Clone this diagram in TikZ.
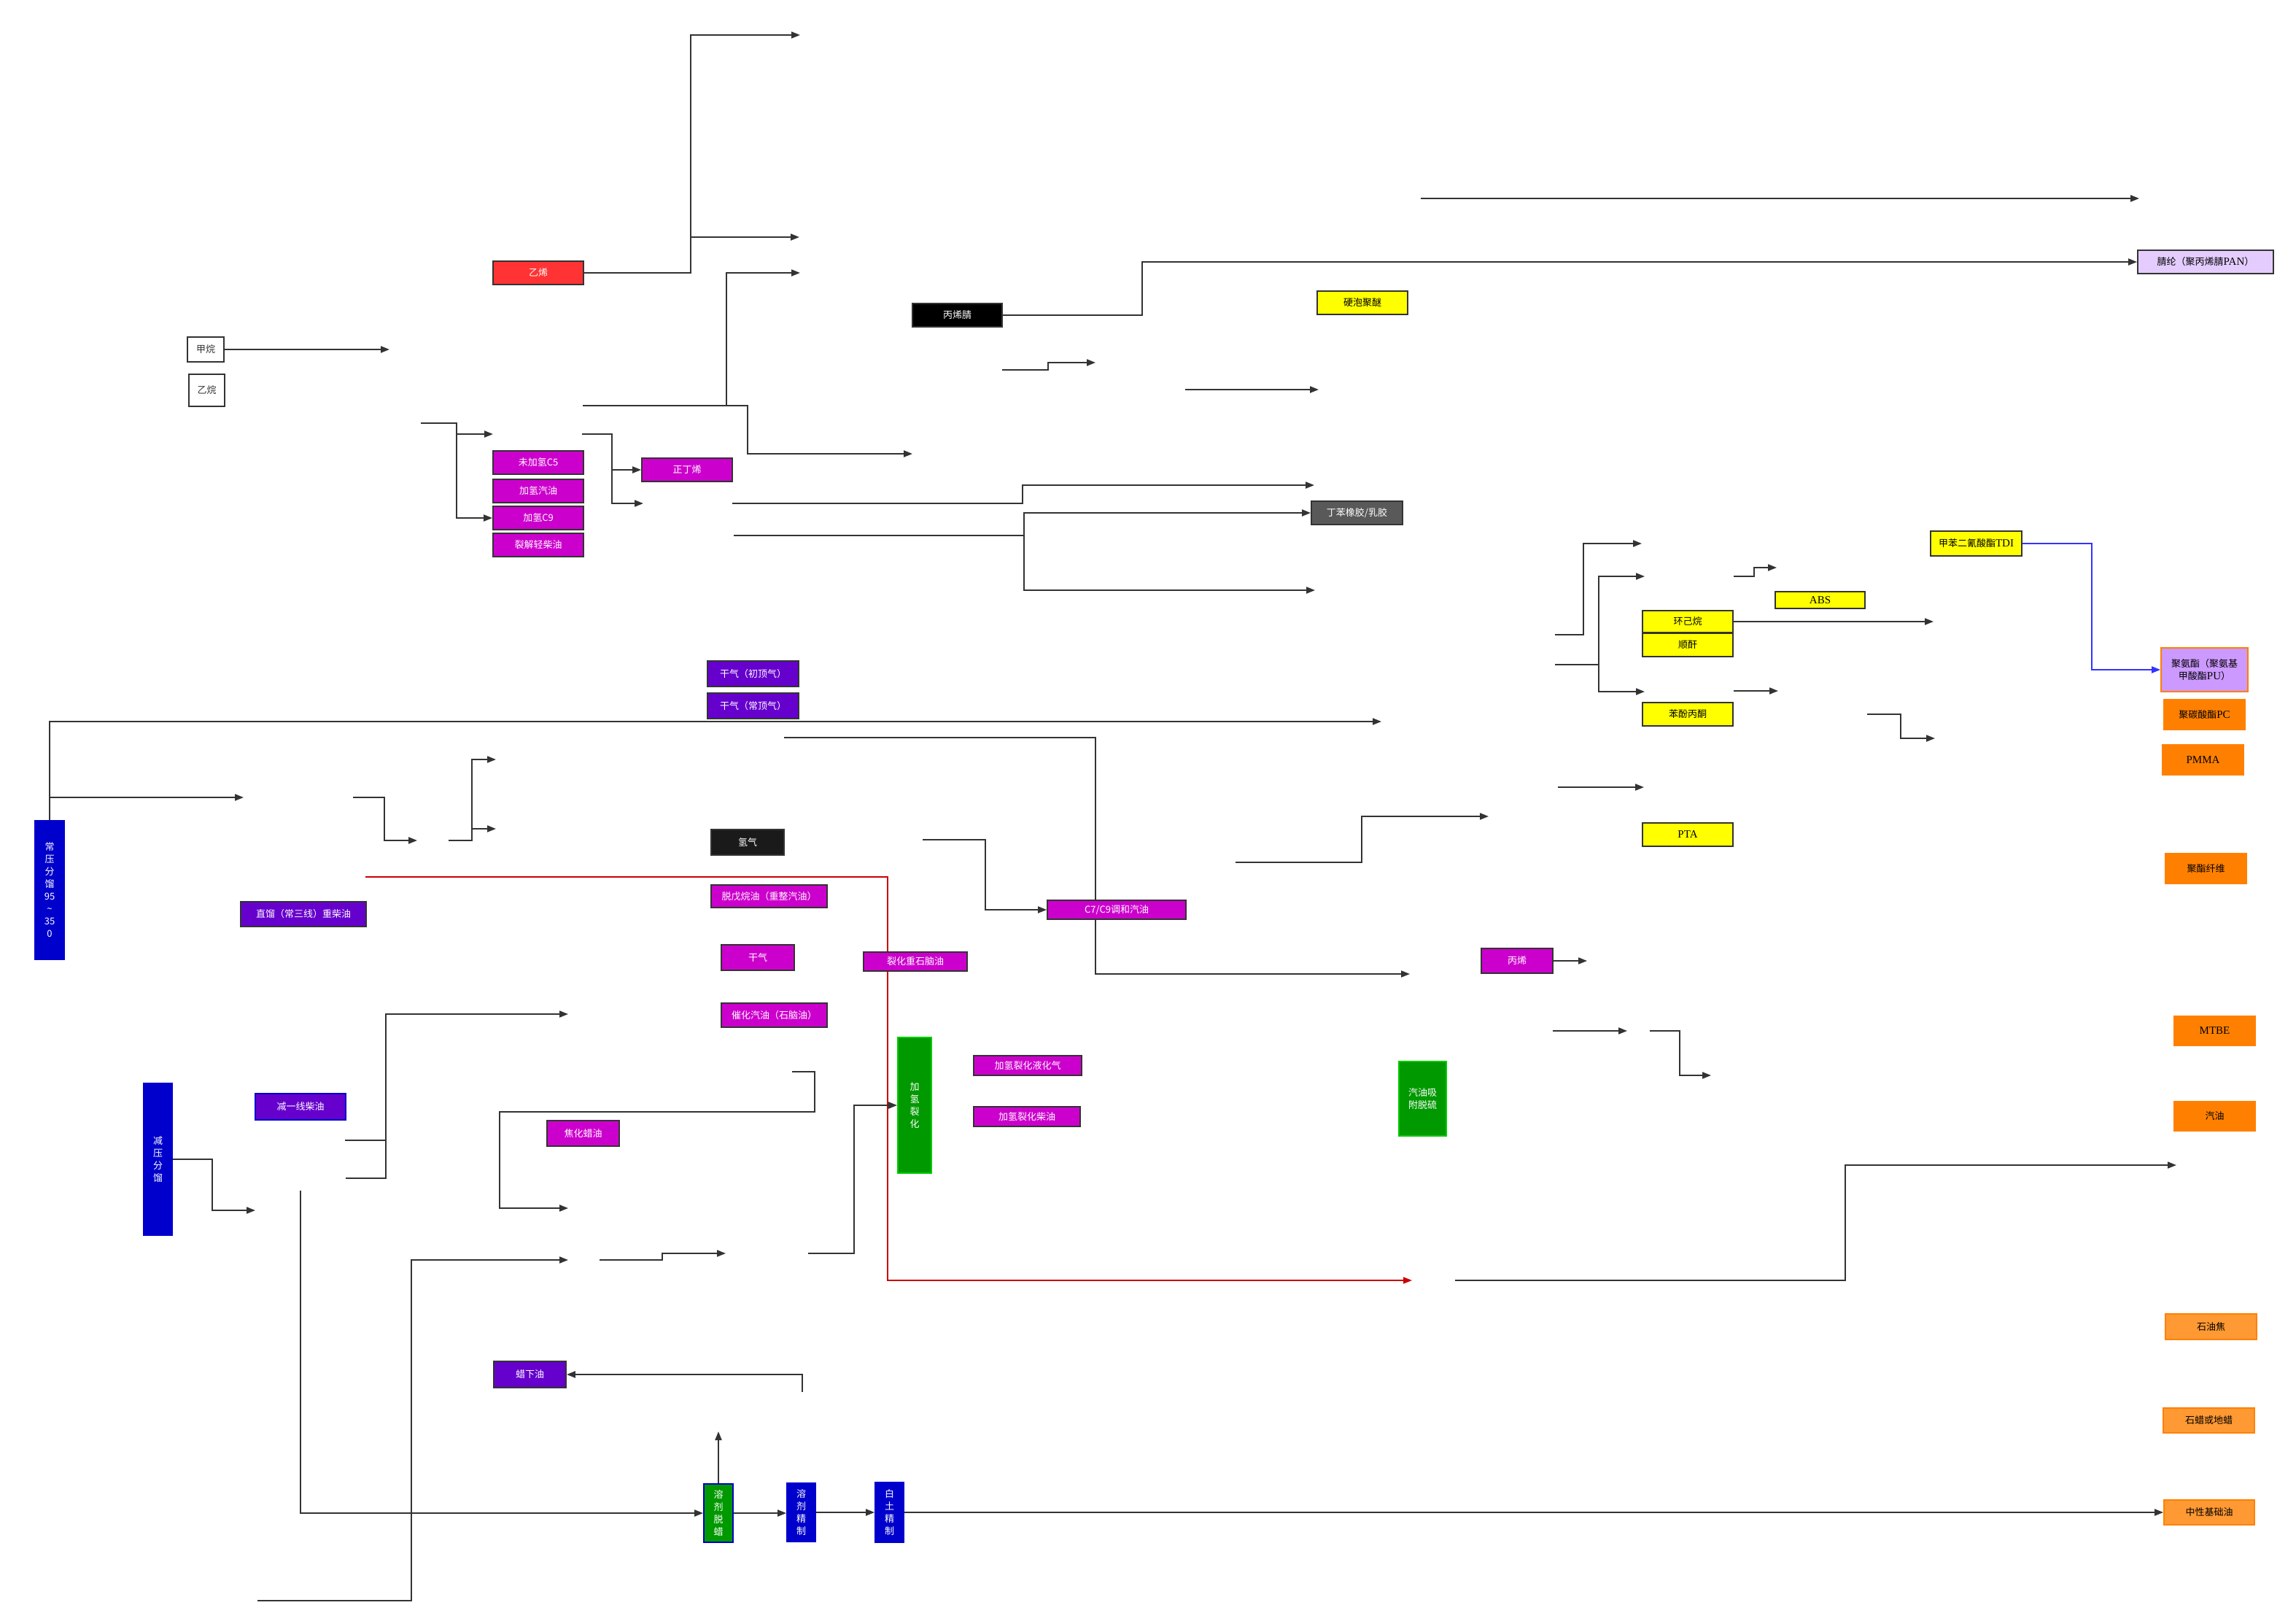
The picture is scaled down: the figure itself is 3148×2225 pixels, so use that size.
\documentclass[tikz,border=0pt]{standalone}
\usepackage{fontspec}
\setmainfont{Noto Sans CJK SC}
\newfontfamily\lat{Liberation Serif}
\usetikzlibrary{arrows.meta,backgrounds}
\definecolor{ink}{HTML}{333333}
\definecolor{cmag}{HTML}{CC00CC}
\definecolor{cpur}{HTML}{6600CC}
\definecolor{cblu}{HTML}{0000CC}
\definecolor{cgrn}{HTML}{009900}
\definecolor{cgrnb}{HTML}{00CC00}
\definecolor{cyel}{HTML}{FFFF00}
\definecolor{corg}{HTML}{FF8000}
\definecolor{clorg}{HTML}{FF9933}
\definecolor{cred}{HTML}{FF3333}
\definecolor{cgry}{HTML}{595959}
\definecolor{cdark}{HTML}{1A1A1A}
\definecolor{clav}{HTML}{CC99FF}
\definecolor{cllav}{HTML}{E5CCFF}
\definecolor{credline}{HTML}{CC0000}
\definecolor{cblueline}{HTML}{3333FF}
\newcommand\mybox[7]{\node[bxbase,#6,minimum width={(#4-#2)*1pt},minimum height={(#5-#3)*1pt}] (#1) at ({(#2+#4)/2},{(#3+#5)/2}) {#7};}
\newcommand\lt[1]{{\lat\fontsize{15}{17}\selectfont #1}}
\begin{document}
\begin{tikzpicture}[x=1pt,y=-1pt,
  bxbase/.style={draw=ink,line width=1.8pt,inner sep=1pt,font=\fontsize{13}{17}\selectfont,align=center,text=white},
  mag/.style={fill=cmag},
  pur/.style={fill=cpur},
  blu/.style={fill=cblu,draw=cblu},
  grn/.style={fill=cgrn,draw=cgrnb},
  yel/.style={fill=cyel,text=black},
  org/.style={fill=corg,draw=corg,text=black},
  lorg/.style={fill=clorg,draw=corg,text=black},
  wht/.style={fill=white,text=ink},
  redb/.style={fill=cred},
  blk/.style={fill=black},
  dark/.style={fill=cdark},
  gry/.style={fill=cgry},
  lav/.style={fill=clav,draw=corg,text=black},
  llav/.style={fill=cllav,text=black},
  ln/.style={draw=ink,line width=2pt},
  arr/.style={ln,-{Triangle[length=12pt,width=9pt]}},
  redarr/.style={draw=credline,line width=1.5pt,-{Triangle[length=12pt,width=9pt]}},
  bluarr/.style={draw=cblueline,line width=2pt,-{Triangle[length=12pt,width=9pt]}}
]
% ---------- nodes ----------
\mybox{yixi}{676}{358}{800}{390}{redb}{乙烯}
\mybox{jiawan}{257}{462}{307}{496}{wht}{甲烷}
\mybox{yiwan}{259}{513}{308}{557}{wht}{乙烷}
\mybox{wjq}{676}{618}{800}{650}{mag}{未加氢C5}
\mybox{jqqy}{676}{657}{800}{689}{mag}{加氢汽油}
\mybox{jqC}{676}{694}{800}{726}{mag}{加氢C9}
\mybox{ljqc}{676}{731}{800}{763}{mag}{裂解轻柴油}
\mybox{zdx}{880}{628}{1004}{660}{mag}{正丁烯}
\mybox{bxj}{1251}{416}{1374}{448}{blk}{丙烯腈}
\mybox{ypjm}{1806}{399}{1930}{431}{yel}{硬泡聚醚}
\mybox{dbxj}{1798}{687}{1923}{719}{gry}{丁苯橡胶/乳胶}
\mybox{jl}{2931}{343}{3117}{375}{llav}{腈纶（聚丙烯腈\lt{PAN}）}
\mybox{tdi}{2647}{728}{2772}{762}{yel}{甲苯二氰酸酯\lt{TDI}}
\mybox{abs}{2434}{811}{2557}{834}{yel}{\lt{ABS}}
\mybox{hjw}{2252}{837}{2376}{867}{yel}{环己烷}
\mybox{sg}{2252}{868}{2376}{900}{yel}{顺酐}
\mybox{bfbt}{2252}{963}{2376}{995}{yel}{苯酚丙酮}
\mybox{pta}{2252}{1128}{2376}{1160}{yel}{\lt{PTA}}
\mybox{pu}{2963}{888}{3082}{948}{lav}{聚氨酯（聚氨基\\甲酸酯\lt{PU}）}
\mybox{pc}{2967}{959}{3078}{1000}{org}{聚碳酸酯\lt{PC}}
\mybox{pmma}{2965}{1021}{3076}{1062}{org}{\lt{PMMA}}
\mybox{jzxw}{2969}{1170}{3080}{1211}{org}{聚酯纤维}
\mybox{mtbe}{2981}{1393}{3092}{1433}{org}{\lt{MTBE}}
\mybox{qy}{2981}{1510}{3092}{1550}{org}{汽油}
\mybox{syj}{2969}{1801}{3094}{1836}{lorg}{石油焦}
\mybox{sl}{2966}{1930}{3091}{1964}{lorg}{石蜡或地蜡}
\mybox{zxjcy}{2967}{2056}{3091}{2090}{lorg}{中性基础油}
\mybox{gqa}{970}{906}{1095}{941}{pur}{干气（初顶气）}
\mybox{gqb}{970}{950}{1095}{985}{pur}{干气（常顶气）}
\mybox{cyfl}{48}{1125}{88}{1315}{blu}{常\\压\\分\\馏\\95\\\textasciitilde\\35\\0}
\mybox{qq}{975}{1137}{1075}{1172}{dark}{氢气}
\mybox{twy}{975}{1213}{1134}{1244}{mag}{脱戊烷油（重整汽油）}
\mybox{gqc}{989}{1295}{1089}{1330}{mag}{干气}
\mybox{lhzs}{1184}{1305}{1326}{1331}{mag}{裂化重石脑油}
\mybox{chqy}{989}{1375}{1134}{1408}{mag}{催化汽油（石脑油）}
\mybox{zlzc}{330}{1236}{502}{1270}{pur}{直馏（常三线）重柴油}
\mybox{cqj}{1436}{1234}{1626}{1260}{mag}{C7/C9调和汽油}
\mybox{bx}{2031}{1300}{2129}{1334}{mag}{丙烯}
\mybox{jqlh}{1231}{1422}{1277}{1608}{grn}{加\\氢\\裂\\化}
\mybox{jqyh}{1335}{1447}{1483}{1474}{mag}{加氢裂化液化气}
\mybox{jqcy}{1335}{1517}{1481}{1544}{mag}{加氢裂化柴油}
\mybox{qyxf}{1918}{1455}{1983}{1557}{grn}{汽油吸\\附脱硫}
\mybox{jyfl}{197}{1485}{236}{1693}{blu}{减\\压\\分\\馏}
\mybox{jyx}{350}{1499}{474}{1535}{pur,draw=cblu}{减一线柴油}
\mybox{jhly}{750}{1536}{849}{1571}{mag}{焦化蜡油}
\mybox{lxy}{677}{1866}{776}{1902}{pur}{蜡下油}
\mybox{rjtl}{965}{2034}{1005}{2114}{grn,draw=cblu}{溶\\剂\\脱\\蜡}
\mybox{rjjz}{1079}{2033}{1118}{2113}{blu}{溶\\剂\\精\\制}
\mybox{btjz}{1200}{2032}{1239}{2114}{blu}{白\\土\\精\\制}
% ---------- free ends ----------
\coordinate (t1) at (1097,48);
\coordinate (t2) at (1096,325);
\coordinate (f1) at (799,556);
\coordinate (t3) at (1097,374);
\coordinate (t4) at (1251,622);
\coordinate (t5) at (534,479);
\coordinate (f2) at (577,580);
\coordinate (t6) at (676,595);
\coordinate (f3) at (798,595);
\coordinate (t7) at (882,690);
\coordinate (f4) at (1004,690);
\coordinate (t8) at (1802,665);
\coordinate (f5) at (1006,734);
\coordinate (t9) at (1803,809);
\coordinate (f6) at (1374,507);
\coordinate (t10) at (1502,497);
\coordinate (f7) at (1625,534);
\coordinate (t11) at (1808,534);
\coordinate (f8) at (1948,272);
\coordinate (t12) at (2933,272);
\coordinate (t13) at (1894,989);
\coordinate (t14) at (334,1093);
\coordinate (f9) at (484,1093);
\coordinate (t15) at (572,1152);
\coordinate (f10) at (615,1152);
\coordinate (t16) at (680,1041);
\coordinate (t17) at (680,1136);
\coordinate (f11) at (1075,1011);
\coordinate (t18) at (1933,1335);
\coordinate (f12) at (1265,1151);
\coordinate (f13) at (501,1202);
\coordinate (t19) at (1936,1755);
\coordinate (f14) at (1694,1182);
\coordinate (t20) at (2041,1119);
\coordinate (f15) at (2136,1079);
\coordinate (t21) at (2254,1079);
\coordinate (t22) at (2176,1317);
\coordinate (f16) at (2129,1413);
\coordinate (t23) at (2231,1413);
\coordinate (f17) at (2262,1413);
\coordinate (t24) at (2346,1474);
\coordinate (f18) at (1995,1755);
\coordinate (t25) at (2984,1597);
\coordinate (f19) at (2132,870);
\coordinate (t26) at (2251,745);
\coordinate (f20) at (2132,911);
\coordinate (t27) at (2255,790);
\coordinate (t28) at (2255,948);
\coordinate (f21) at (2377,790);
\coordinate (t29) at (2436,778);
\coordinate (t30) at (2651,852);
\coordinate (f22) at (2377,947);
\coordinate (t31) at (2438,947);
\coordinate (f23) at (2560,979);
\coordinate (t32) at (2653,1012);
\coordinate (t33) at (350,1659);
\coordinate (f24) at (473,1563);
\coordinate (f25) at (474,1615);
\coordinate (t34) at (779,1390);
\coordinate (f26) at (1086,1469);
\coordinate (t35) at (779,1656);
\coordinate (f27) at (1108,1718);
\coordinate (f28) at (822,1727);
\coordinate (t36) at (995,1718);
\coordinate (f29) at (353,2194);
\coordinate (t37) at (779,1727);
\coordinate (f30) at (412,1632);
\coordinate (t38) at (985,1962);
\coordinate (f31) at (1100,1908);
% ---------- connectors ----------
\begin{pgfonlayer}{background}
\fill[white] (0,0) rectangle (3148,2225);
\draw[arr] (yixi.east) -| (947,48) -- (t1);
\draw[arr] (947,374) |- (t2);
\draw[arr] (f1) -- (996,556) |- (t3);
\draw[arr] (996,556) -- (1025,556) |- (t4);
\draw[arr] (jiawan.east) -- (t5);
\draw[arr] (f2) -- (626,580) |- (t6);
\draw[arr] (626,595) |- (jqC.west);
\draw[arr] (f3) -- (839,595) |- (zdx.west);
\draw[arr] (839,644) |- (t7);
\draw[arr] (f4) -- (1402,690) |- (t8);
\draw[arr] (f5) -- (1404,734) |- (dbxj.west);
\draw[arr] (1404,734) |- (t9);
\draw[arr] (bxj.east) -- (1566,432) |- (jl.west);
\draw[arr] (f6) -- (1437,507) |- (t10);
\draw[arr] (f7) -- (t11);
\draw[arr] (f8) -- (t12);
\draw[arr] (cyfl.north) |- (t13);
\draw[arr] (68,1093) -- (t14);
\draw[arr] (f9) -- (527,1093) |- (t15);
\draw[arr] (f10) -- (647,1152) |- (t16);
\draw[arr] (647,1136) -- (t17);
\draw[arr] (f11) -- (1502,1011) |- (t18);
\draw[arr] (f12) -- (1351,1151) |- (cqj.west);
\draw[redarr] (f13) -- (1217,1202) |- (t19);
\draw[arr] (f14) -- (1867,1182) |- (t20);
\draw[arr] (f15) -- (t21);
\draw[arr] (bx.east) -- (t22);
\draw[arr] (f16) -- (t23);
\draw[arr] (f17) -- (2303,1413) |- (t24);
\draw[arr] (f18) -- (2530,1755) |- (t25);
\draw[arr] (f19) -- (2171,870) |- (t26);
\draw[arr] (f20) -- (2192,911) |- (t27);
\draw[arr] (2192,911) |- (t28);
\draw[arr] (f21) -- (2405,790) |- (t29);
\draw[arr] (hjw.east) -- (t30);
\draw[arr] (f22) -- (t31);
\draw[arr] (f23) -- (2606,979) |- (t32);
\draw[bluarr] (tdi.east) -- (2868,745) |- (pu.west);
\draw[arr] (jyfl.east) -- (291,1589) |- (t33);
\draw[arr] (f24) -- (529,1563) |- (t34);
\draw[ln] (f25) -- (529,1615) -- (529,1563);
\draw[arr] (f26) -- (1117,1469) -- (1117,1524) -- (685,1524) |- (t35);
\draw[arr] (f27) -- (1171,1718) |- (jqlh.west);
\draw[arr] (f28) -- (908,1727) |- (t36);
\draw[arr] (f29) -- (564,2194) |- (t37);
\draw[arr] (f30) |- (rjtl.west);
\draw[arr] (rjtl.north) -- (t38);
\draw[arr] (f31) |- (lxy.east);
\draw[arr] (rjtl.east) -- (rjtl.east -| rjjz.west);
\draw[arr] (rjjz.east) -- (rjjz.east -| btjz.west);
\draw[arr] (btjz.east) -- (btjz.east -| zxjcy.west);
\end{pgfonlayer}
\end{tikzpicture}
\end{document}
